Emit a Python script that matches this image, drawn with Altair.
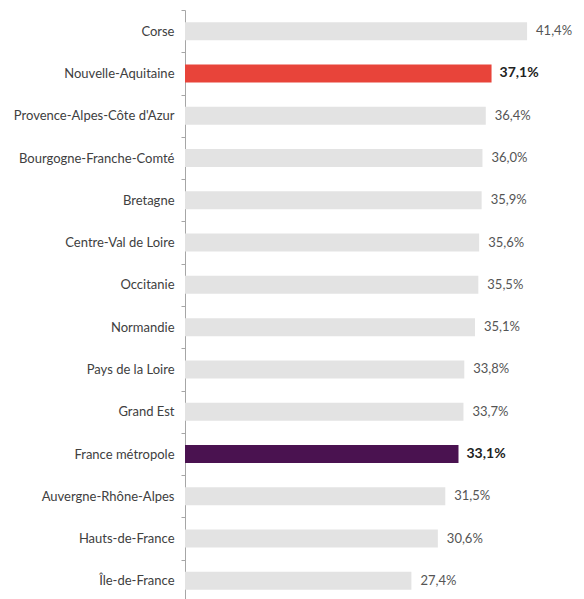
import altair as alt
import pandas as pd

regions = [
    "Corse", "Nouvelle-Aquitaine", "Provence-Alpes-Côte d'Azur",
    "Bourgogne-Franche-Comté", "Bretagne", "Centre-Val de Loire",
    "Occitanie", "Normandie", "Pays de la Loire", "Grand Est",
    "France métropole", "Auvergne-Rhône-Alpes", "Hauts-de-France",
    "Île-de-France",
]
values = [41.4, 37.1, 36.4, 36.0, 35.9, 35.6, 35.5, 35.1, 33.8, 33.7,
          33.1, 31.5, 30.6, 27.4]
groups = ["autre", "region", "autre", "autre", "autre", "autre", "autre",
          "autre", "autre", "autre", "france", "autre", "autre", "autre"]

df = pd.DataFrame({"region": regions, "value": values, "group": groups})
df["label"] = [f"{v:.1f}".replace(".", ",") + "%" for v in values]

FONT = "Lato"

base = alt.Chart(df).encode(
    y=alt.Y(
        "region:N",
        sort=regions,
        title=None,
        scale=alt.Scale(paddingInner=0, paddingOuter=0),
        axis=alt.Axis(
            tickBand="extent",
            tickSize=4,
            tickColor="#A6A6A6",
            domainColor="#A6A6A6",
            labelPadding=7,
            labelFont=FONT,
            labelFontSize=13,
            labelColor="#404040",
            labelLimit=300,
            grid=False,
        ),
    )
)

xscale = alt.Scale(domain=[0, 47.2], nice=False, zero=True)

bars = base.mark_bar(size=18).encode(
    x=alt.X("value:Q", scale=xscale, axis=None),
    color=alt.Color(
        "group:N",
        scale=alt.Scale(domain=["autre", "region", "france"],
                        range=["#E3E3E3", "#E8443A", "#4A1250"]),
        legend=None,
    ),
)

text_normal = base.mark_text(
    align="left", baseline="middle", dx=9, font=FONT, fontSize=13,
    color="#555555",
).encode(x=alt.X("value:Q", scale=xscale), text="label:N").transform_filter(
    alt.datum.group == "autre"
)

text_bold = base.mark_text(
    align="left", baseline="middle", dx=8, font=FONT, fontSize=14,
    fontWeight="bold", color="#222222",
).encode(x=alt.X("value:Q", scale=xscale), text="label:N").transform_filter(
    alt.datum.group != "autre"
)

chart = alt.layer(bars, text_normal, text_bold).properties(
    width=390,
    height=592,
    padding={"left": 177, "top": 2, "right": 0, "bottom": 0},
    autosize="none",
).configure_view(stroke=None)

chart.save("out.html", embed_options={"renderer": "svg", "actions": False})
